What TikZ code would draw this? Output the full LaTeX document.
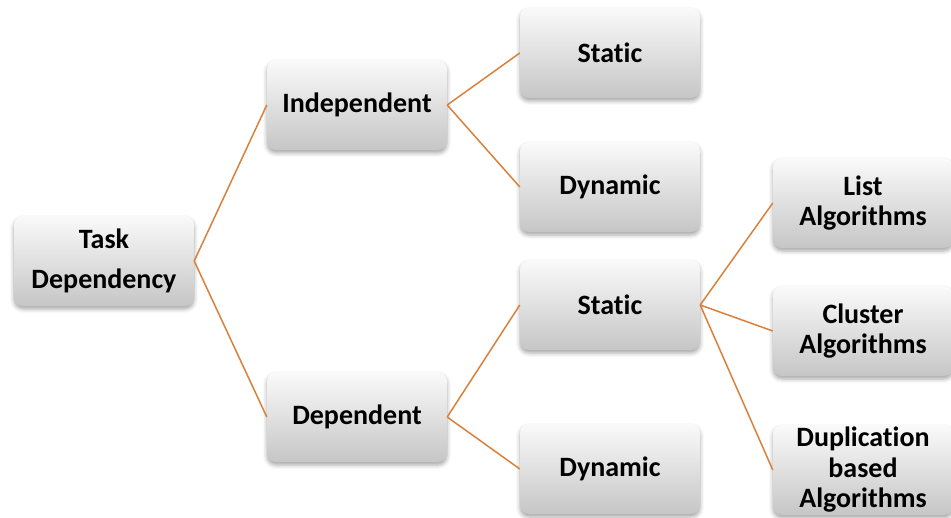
\documentclass[tikz,border=0pt]{standalone}
\usepackage{fontspec}
\setmainfont[Ligatures=NoCommon]{Carlito}
\usetikzlibrary{shadows.blur}
\definecolor{linkcol}{RGB}{218,128,58}
\definecolor{boxtop}{RGB}{250,250,250}
\definecolor{boxbot}{RGB}{198,198,198}
\tikzset{
  box/.style={rounded corners=9pt, minimum width=180pt, minimum height=90pt,
    inner sep=0pt, top color=boxtop, bottom color=boxbot, draw=none,
    blur shadow={shadow xshift=0pt, shadow yshift=-3pt, shadow blur radius=4pt, shadow opacity=35},
    align=center, font=\fontsize{28}{30.5}\selectfont\bfseries},
  link/.style={draw=linkcol, line width=1.5pt}
}
\begin{document}
\begin{tikzpicture}[x=1pt,y=-1pt]
  \useasboundingbox (0,0) rectangle (951,518);
  % root
  \node[box] (root) at (104,261) {Task\\[10pt]Dependency};
  % second level
  \node[box] (ind) at (357,105) {Independent};
  \node[box] (dep) at (357,417) {Dependent};
  % third level
  \node[box] (ist) at (610,53) {Static};
  \node[box] (idy) at (610,187) {Dynamic};
  \node[box] (dst) at (610,305) {Static};
  \node[box] (ddy) at (610,469) {Dynamic};
  % fourth level
  \node[box] (lst) at (863,203) {List\\Algorithms};
  \node[box] (cls) at (863,331) {Cluster\\Algorithms};
  \node[box] (dup) at (863,470) {Duplication\\based\\Algorithms};
  % connectors
  \draw[link] (root.east) -- (ind.west);
  \draw[link] (root.east) -- (dep.west);
  \draw[link] (ind.east) -- (ist.west);
  \draw[link] (ind.east) -- (idy.west);
  \draw[link] (dep.east) -- (dst.west);
  \draw[link] (dep.east) -- (ddy.west);
  \draw[link] (dst.east) -- (lst.west);
  \draw[link] (dst.east) -- (cls.west);
  \draw[link] (dst.east) -- (dup.west);
\end{tikzpicture}
\end{document}
